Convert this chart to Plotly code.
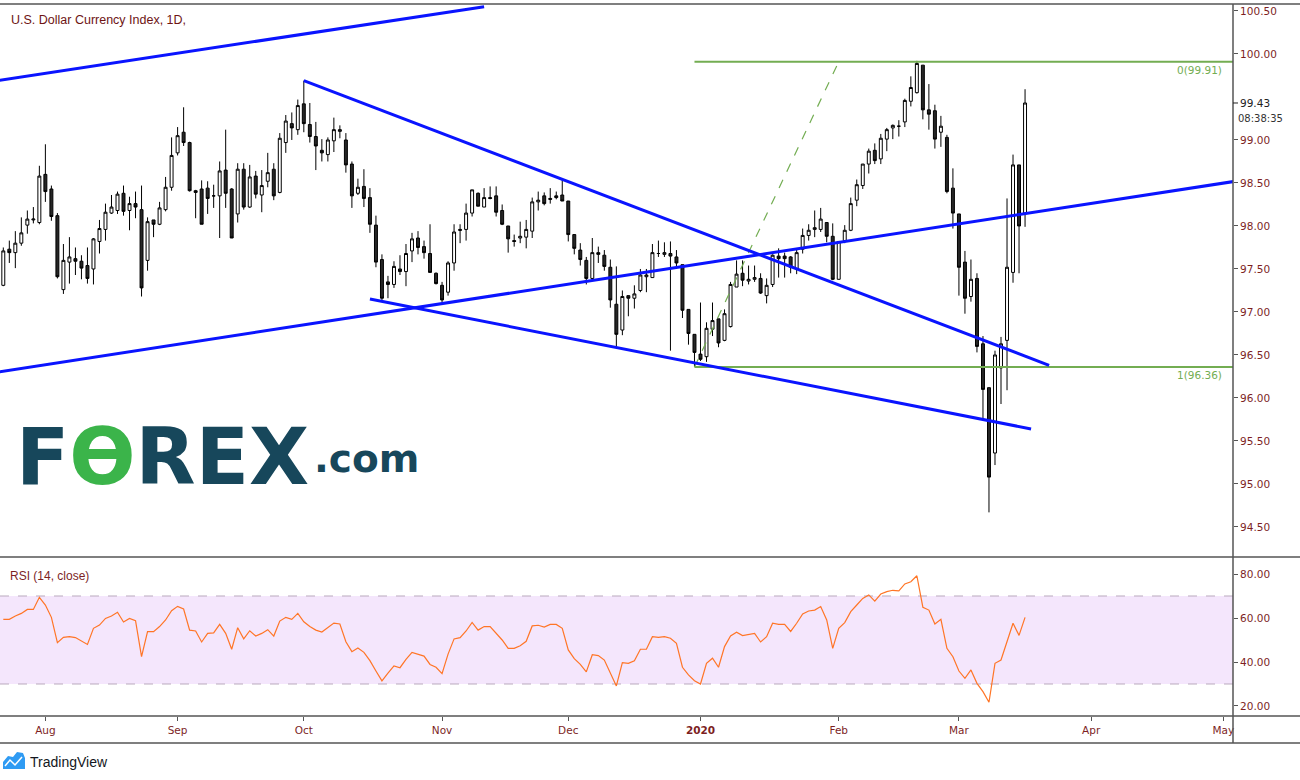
import pandas as pd
import plotly.graph_objects as go

# ---------------- data ----------------
start_date = "2019-07-23"   # first daily bar (weekday bars)

open_ = [97.31, 97.73, 97.69, 97.80, 98.01, 98.07, 98.04, 98.60, 98.43, 98.12,
         97.26, 97.58, 97.62, 97.59, 97.54, 97.50, 97.82, 97.96, 98.15, 98.18,
         98.38, 98.18, 98.26, 98.19, 97.60, 98.07, 98.02, 98.19, 98.45, 98.85,
         99.09, 98.97, 98.41, 98.43, 98.44, 98.35, 98.35, 98.65, 98.43, 98.14,
         98.66, 98.22, 98.58, 98.36, 98.52, 98.66, 98.39, 98.97, 99.19, 99.12,
         99.42, 99.18, 99.04, 98.88, 98.83, 98.99, 99.10, 99.00, 98.72, 98.38,
         98.46, 98.33, 98.01, 97.61, 97.35, 97.32, 97.50, 97.47, 97.71, 97.86,
         97.76, 97.68, 97.45, 97.31, 97.23, 97.57, 97.96, 97.96, 98.15, 98.38,
         98.22, 98.33, 98.35, 98.18, 98.00, 97.83, 97.86, 97.87, 97.94, 98.28,
         98.35, 98.32, 98.35, 98.36, 98.29, 97.90, 97.72, 97.60, 97.39, 97.69,
         97.66, 97.52, 97.09, 96.79, 97.19, 97.16, 97.25, 97.41, 97.40, 97.68,
         97.67, 97.68, 97.64, 97.55, 97.03, 96.74, 96.51, 96.48, 96.80, 96.92,
         96.67, 96.83, 97.29, 97.45, 97.36, 97.38, 97.39, 97.19, 97.32, 97.65,
         97.65, 97.64, 97.50, 97.73, 97.89, 97.96, 97.96, 98.04, 97.88, 97.38,
         97.83, 97.95, 98.30, 98.47, 98.72, 98.88, 98.78, 99.01, 99.14, 99.16,
         99.21, 99.45, 99.55, 99.87, 99.35, 99.34, 99.09, 99.03, 98.44, 98.14,
         97.58, 97.18, 97.39, 96.63, 96.12, 95.36, 96.35, 96.67, 97.46, 98.71,
         98.15]

high = [97.75, 97.83, 97.94, 98.10, 98.18, 98.22, 98.70, 98.95, 98.47, 98.15,
        97.79, 97.87, 97.75, 97.66, 97.75, 97.86, 98.07, 98.26, 98.36, 98.40,
        98.47, 98.34, 98.40, 98.47, 98.10, 98.07, 98.28, 98.57, 99.03, 99.15,
        99.38, 98.98, 98.42, 98.53, 98.52, 98.48, 98.75, 99.12, 98.44, 98.73,
        98.73, 98.71, 98.64, 98.65, 98.85, 98.73, 99.08, 99.29, 99.32, 99.47,
        99.69, 99.43, 99.21, 99.01, 99.03, 99.26, 99.17, 99.08, 98.75, 98.55,
        98.66, 98.44, 98.12, 97.67, 97.42, 97.59, 97.66, 97.79, 97.92, 97.94,
        97.83, 98.02, 97.46, 97.35, 97.59, 98.02, 98.02, 98.26, 98.42, 98.39,
        98.44, 98.46, 98.46, 98.25, 98.00, 97.90, 98.05, 98.07, 98.33, 98.40,
        98.39, 98.44, 98.40, 98.55, 98.29, 97.90, 97.80, 97.64, 97.86, 97.76,
        97.72, 97.61, 97.53, 97.25, 97.19, 97.31, 97.50, 97.50, 97.79, 97.83,
        97.81, 97.82, 97.72, 97.55, 97.03, 96.74, 97.11, 96.88, 97.11, 96.92,
        97.03, 97.35, 97.60, 97.60, 97.54, 97.54, 97.45, 97.39, 97.67, 97.74,
        97.69, 97.65, 97.73, 97.97, 98.02, 98.18, 98.21, 98.04, 98.03, 97.82,
        98.01, 98.33, 98.54, 98.72, 98.90, 98.96, 99.07, 99.14, 99.18, 99.23,
        99.48, 99.74, 99.92, 99.87, 99.65, 99.41, 99.28, 99.06, 98.67, 98.14,
        97.71, 97.61, 97.45, 96.72, 96.12, 96.55, 96.71, 98.32, 98.83, 98.71,
        99.59]

low = [97.30, 97.57, 97.51, 97.77, 97.91, 98.03, 98.02, 98.28, 98.06, 97.39,
       97.21, 97.33, 97.43, 97.38, 97.33, 97.32, 97.68, 97.83, 98.14, 98.14,
       98.12, 97.95, 98.09, 97.18, 97.48, 97.87, 98.01, 98.17, 98.41, 98.82,
       98.93, 98.40, 98.09, 98.02, 98.14, 98.21, 97.86, 98.21, 97.86, 98.04,
       98.19, 98.21, 98.32, 98.16, 98.45, 98.30, 98.38, 98.85, 99.00, 99.06,
       99.09, 98.97, 98.65, 98.75, 98.75, 98.86, 99.02, 98.62, 98.21, 98.36,
       98.22, 97.92, 97.52, 97.14, 97.16, 97.28, 97.43, 97.30, 97.58, 97.67,
       97.62, 97.46, 97.32, 97.11, 97.19, 97.48, 97.80, 97.83, 98.11, 98.23,
       98.22, 98.31, 98.11, 98.01, 97.69, 97.76, 97.80, 97.74, 97.86, 98.18,
       98.24, 98.26, 98.31, 98.29, 97.82, 97.67, 97.54, 97.32, 97.37, 97.57,
       97.48, 97.05, 96.59, 96.73, 96.95, 97.04, 97.23, 97.23, 97.40, 97.64,
       97.64, 96.55, 97.50, 96.93, 96.62, 96.36, 96.43, 96.42, 96.72, 96.59,
       96.66, 96.82, 97.29, 97.30, 97.32, 97.35, 97.21, 97.10, 97.29, 97.40,
       97.40, 97.45, 97.44, 97.68, 97.83, 97.87, 97.93, 97.81, 97.37, 97.38,
       97.80, 97.94, 98.23, 98.43, 98.61, 98.72, 98.72, 98.87, 99.01, 99.04,
       99.15, 99.39, 99.54, 99.24, 99.12, 98.90, 98.92, 98.38, 97.97, 97.19,
       96.98, 97.12, 96.53, 95.74, 94.67, 95.22, 95.93, 96.09, 97.34, 97.45,
       97.99]

close = [97.71, 97.69, 97.80, 97.92, 98.08, 98.08, 98.58, 98.40, 98.11, 97.41,
         97.60, 97.64, 97.59, 97.51, 97.39, 97.85, 97.97, 98.16, 98.22, 98.37,
         98.17, 98.26, 98.22, 97.28, 98.05, 98.02, 98.21, 98.45, 98.82, 99.05,
         98.97, 98.41, 98.39, 98.02, 98.32, 98.35, 98.64, 98.38, 97.86, 98.66,
         98.22, 98.57, 98.37, 98.47, 98.62, 98.35, 99.02, 99.22, 99.14, 99.40,
         99.19, 99.04, 98.93, 98.85, 99.00, 99.12, 99.12, 98.71, 98.35, 98.45,
         98.32, 98.02, 97.58, 97.16, 97.32, 97.53, 97.47, 97.68, 97.85, 97.75,
         97.69, 97.46, 97.33, 97.14, 97.57, 97.93, 97.95, 98.15, 98.42, 98.23,
         98.33, 98.32, 98.16, 98.02, 97.85, 97.82, 97.88, 97.96, 98.28, 98.30,
         98.26, 98.31, 98.33, 98.29, 97.90, 97.74, 97.61, 97.39, 97.69, 97.67,
         97.53, 97.14, 96.74, 97.18, 97.16, 97.21, 97.43, 97.43, 97.69, 97.68,
         97.69, 97.65, 97.57, 97.02, 96.75, 96.53, 96.45, 96.81, 96.90, 96.64,
         96.98, 97.32, 97.44, 97.37, 97.38, 97.40, 97.22, 97.31, 97.66, 97.62,
         97.62, 97.52, 97.69, 97.89, 97.95, 97.98, 98.08, 97.88, 97.38, 97.82,
         97.95, 98.26, 98.48, 98.72, 98.87, 98.76, 99.02, 99.12, 99.17, 99.16,
         99.46, 99.61, 99.89, 99.35, 99.30, 99.01, 99.16, 98.40, 98.15, 97.52,
         97.16, 97.38, 96.60, 96.10, 95.08, 96.50, 96.63, 97.52, 98.71, 98.00,
         99.43]

rsi = [59.4, 59.4, 60.9, 62.1, 63.9, 63.9, 69.4, 65.9, 60.3, 48.8,
       51.2, 51.5, 51.1, 49.7, 48.0, 55.3, 56.8, 59.8, 60.9, 62.6,
       58.2, 59.8, 58.8, 42.4, 53.8, 53.8, 56.1, 59.1, 63.3, 65.3,
       64.1, 54.5, 54.1, 49.1, 53.0, 53.2, 57.1, 53.0, 45.8, 55.6,
       50.5, 54.2, 51.8, 53.0, 54.7, 51.8, 58.6, 60.3, 59.4, 62.1,
       58.3, 56.1, 54.5, 53.6, 55.8, 57.7, 57.3, 49.2, 44.7, 46.4,
       44.4, 40.6, 35.9, 31.4, 34.9, 38.2, 37.4, 41.2, 44.4, 43.5,
       42.7, 38.9, 37.6, 34.7, 43.6, 50.5, 51.1, 54.1, 58.0, 54.5,
       56.1, 56.1, 52.9, 50.0, 46.2, 46.2, 47.4, 49.4, 56.4, 56.7,
       55.9, 57.1, 57.1, 55.3, 45.5, 41.5, 38.9, 35.5, 43.3, 42.9,
       40.9, 35.2, 29.1, 39.7, 39.4, 40.6, 45.8, 45.8, 51.5, 51.2,
       51.5, 50.8, 48.5, 37.6, 34.1, 31.5, 30.0, 39.4, 41.7, 37.6,
       47.0, 51.8, 53.5, 52.0, 52.6, 53.0, 49.1, 51.5, 57.6, 57.1,
       57.1, 53.9, 57.6, 61.8, 63.2, 63.6, 65.2, 59.1, 46.2, 55.3,
       57.9, 62.9, 65.9, 68.9, 70.5, 67.7, 70.9, 72.0, 72.6, 72.3,
       75.5, 76.5, 79.2, 64.9, 63.6, 57.3, 59.4, 46.2, 42.4, 35.9,
       32.6, 36.4, 30.3, 26.5, 21.7, 39.4, 40.9, 48.9, 57.6, 52.1, 60.3]

# month tick labels
month_starts = ["2019-08-01", "2019-09-01", "2019-10-01", "2019-11-01", "2019-12-01",
                "2020-01-01", "2020-02-01", "2020-03-01", "2020-04-01", "2020-05-01"]
month_labels = ["Aug", "Sep", "Oct", "Nov", "Dec", "<b>2020</b>", "Feb", "Mar", "Apr", "May"]

# 99.50 is hidden under the last-price label in the reference
price_ticks = [94.5, 95.0, 95.5, 96.0, 96.5, 97.0, 97.5, 98.0, 98.5, 99.0, 100.0, 100.5]
rsi_ticks = [20, 40, 60, 80]

# drawings: (bar index, price) anchors
channel_upper_x = [-1, 80]
channel_upper_y = [99.69, 100.55]
channel_lower_x = [-1, 205]
channel_lower_y = [96.30, 98.52]
wedge_top_x = [50, 174]
wedge_top_y = [99.69, 96.38]
wedge_bottom_x = [61, 171]
wedge_bottom_y = [97.15, 95.64]
fib_anchor_x = [115, 139]
fib_levels = [96.36, 99.91]
fib_names = ["1", "0"]
last_price = 99.43
countdown = "08:38:35"
rsi_bands = [30, 70]

# ---------------- figure ----------------
n = len(close)
all_days = pd.bdate_range(start_date, "2020-06-30")
dates = all_days[:n]
xi = list(range(n))
tickvals = [int(all_days.searchsorted(pd.Timestamp(d))) for d in month_starts]

W, H = 1300, 780
def py(p):
    return 1 - p / H

XR = 1233 / W
FONT = "DejaVu Sans"
RED = "#7d1f1f"
BLUE = "#0a14ff"
GREEN = "#73ad52"
GRID = "#555555"

x_range = [-0.55, 204.6]

fig = go.Figure()

fig.add_trace(go.Candlestick(
    x=xi, open=open_, high=high, low=low, close=close,
    text=[d.strftime("%Y-%m-%d") for d in dates],
    increasing=dict(line=dict(color="#000000", width=1), fillcolor="#ffffff"),
    decreasing=dict(line=dict(color="#000000", width=1), fillcolor="#262626"),
    whiskerwidth=0, showlegend=False, xaxis="x", yaxis="y", name="DXY"))

# fib retracement
for lvl in fib_levels:
    fig.add_trace(go.Scatter(x=[fib_anchor_x[0], 215], y=[lvl, lvl], mode="lines",
                             line=dict(color=GREEN, width=2), hoverinfo="skip",
                             showlegend=False, xaxis="x", yaxis="y"))
fig.add_trace(go.Scatter(x=fib_anchor_x, y=fib_levels, mode="lines",
                         line=dict(color=GREEN, width=1.2, dash="dash"),
                         hoverinfo="skip", showlegend=False, xaxis="x", yaxis="y"))

# blue trend lines
for lx, ly in [(channel_upper_x, channel_upper_y), (channel_lower_x, channel_lower_y),
               (wedge_top_x, wedge_top_y), (wedge_bottom_x, wedge_bottom_y)]:
    fig.add_trace(go.Scatter(x=lx, y=ly, mode="lines", line=dict(color=BLUE, width=3),
                             hoverinfo="skip", showlegend=False, xaxis="x", yaxis="y"))

# RSI
fig.add_trace(go.Scatter(x=xi, y=rsi, mode="lines", line=dict(color="#ff7526", width=1.2),
                         showlegend=False, xaxis="x2", yaxis="y2", name="RSI"))

axis_font = dict(family=FONT, size=10.5, color=RED)

fig.update_layout(
    width=W, height=H, margin=dict(l=0, r=0, t=0, b=0),
    paper_bgcolor="white", plot_bgcolor="white",
    showlegend=False, hovermode="x",
    xaxis=dict(domain=[0, XR], range=x_range, anchor="y", showticklabels=False,
               showgrid=False, zeroline=False, showline=False, ticks="",
               rangeslider=dict(visible=False)),
    yaxis=dict(domain=[py(557), py(4)], range=[94.151, 100.581], side="right", anchor="x",
               tickvals=price_ticks, ticktext=[f"{v:.2f}" for v in price_ticks],
               ticks="outside", ticklen=4, tickcolor=GRID, tickfont=axis_font,
               showgrid=False, zeroline=False, showline=False),
    xaxis2=dict(domain=[0, XR], range=x_range, anchor="y2", matches="x",
                tickvals=tickvals, ticktext=month_labels, ticks="outside", ticklen=4,
                tickcolor=GRID, tickfont=axis_font, showgrid=False, zeroline=False,
                showline=False),
    yaxis2=dict(domain=[py(716), py(557)], range=[15.45, 87.73], side="right", anchor="x2",
                tickvals=rsi_ticks, ticktext=[f"{v:.2f}" for v in rsi_ticks],
                ticks="outside", ticklen=4, tickcolor=GRID, tickfont=axis_font,
                showgrid=False, zeroline=False, showline=False),
)

shapes = []
# RSI band and dashed bounds
shapes.append(dict(type="rect", xref="x2 domain", yref="y2", x0=0, x1=1,
                   y0=rsi_bands[0], y1=rsi_bands[1], fillcolor="#f4e6fc",
                   line=dict(width=0), layer="below"))
for b in rsi_bands:
    shapes.append(dict(type="line", xref="x2 domain", yref="y2", x0=0, x1=1, y0=b, y1=b,
                       line=dict(color="#b9a9bd", width=1, dash="dash"), layer="below"))
# frame lines
def hline(ypx, x0px=0, x1px=W):
    return dict(type="line", xref="paper", yref="paper", x0=x0px / W, x1=x1px / W,
                y0=py(ypx), y1=py(ypx), line=dict(color=GRID, width=1.5))
shapes += [hline(4), hline(557), hline(716), hline(743)]
shapes.append(dict(type="line", xref="paper", yref="paper", x0=XR, x1=XR,
                   y0=py(4), y1=py(743), line=dict(color=GRID, width=1.5)))
# price-scale tick for the last-price label
shapes.append(dict(type="line", xref="paper", yref="y", x0=XR, x1=(1233 + 5) / W,
                   y0=last_price, y1=last_price, line=dict(color="#222222", width=1)))
# TradingView cloud icon (decoration)
def P(x, y):
    return f"{x / W:.5f},{py(y):.5f}"
icon = ("M " + P(3, 769) + " L " + P(3, 762) + " L " + P(8, 756) + " L " + P(13, 757)
        + " L " + P(17, 752) + " L " + P(23, 753) + " L " + P(25, 758) + " L " + P(25, 769) + " Z")
shapes.append(dict(type="path", xref="paper", yref="paper", path=icon,
                   fillcolor="#2f9bf3", line=dict(width=0)))
wave = ("M " + P(5, 766) + " L " + P(10, 760) + " L " + P(15, 765) + " L " + P(22, 757))
shapes.append(dict(type="path", xref="paper", yref="paper", path=wave,
                   line=dict(color="white", width=1.5)))
fig.update_layout(shapes=shapes)

ann = []
ann.append(dict(xref="paper", yref="paper", x=9 / W, y=py(20), xanchor="left", yanchor="middle",
                text="U.S. Dollar Currency Index, 1D,", showarrow=False,
                font=dict(family="Liberation Sans", size=12.5, color="#6e1414")))
ann.append(dict(xref="paper", yref="paper", x=8 / W, y=py(576), xanchor="left", yanchor="middle",
                text="RSI (14, close)", showarrow=False,
                font=dict(family="Liberation Sans", size=12, color=RED)))
for lvl, name in zip(fib_levels, fib_names):
    ann.append(dict(xref="paper", yref="y", x=1224 / W, y=lvl, xanchor="right", yanchor="top",
                    text=f"{name}({lvl:.2f})", showarrow=False,
                    font=dict(family=FONT, size=10.5, color=GREEN)))
ann.append(dict(xref="paper", yref="y", x=1238 / W, y=last_price, xanchor="left",
                yanchor="middle", text=f"{last_price:.2f}", showarrow=False,
                font=dict(family=FONT, size=10.5, color="#222222")))
ann.append(dict(xref="paper", yref="paper", x=1236 / W, y=py(118), xanchor="left",
                yanchor="middle", text=countdown, showarrow=False,
                font=dict(family=FONT, size=10, color="#333333")))
# FOREX.com watermark
ann.append(dict(xref="paper", yref="paper", x=14 / W, y=py(457), xanchor="left", yanchor="middle",
                text="F<span style='color:#3bb44a'>Ө</span>REX", showarrow=False,
                font=dict(family="DejaVu Sans", size=78, color="#17475b", weight="bold")))
ann.append(dict(xref="paper", yref="paper", x=312 / W, y=py(458), xanchor="left", yanchor="middle",
                text=".com", showarrow=False,
                font=dict(family="DejaVu Sans", size=39, color="#17475b", weight="bold")))
ann.append(dict(xref="paper", yref="paper", x=28 / W, y=py(762), xanchor="left", yanchor="middle",
                text="TradingView", showarrow=False,
                font=dict(family="Liberation Sans", size=14, color="#131722")))
fig.update_layout(annotations=ann)

# remove the browser's default 8px page margin so the figure fills the window exactly
fig.write_html("out.html", config={"displayModeBar": False},
               post_script="document.body.style.margin='0px';")
